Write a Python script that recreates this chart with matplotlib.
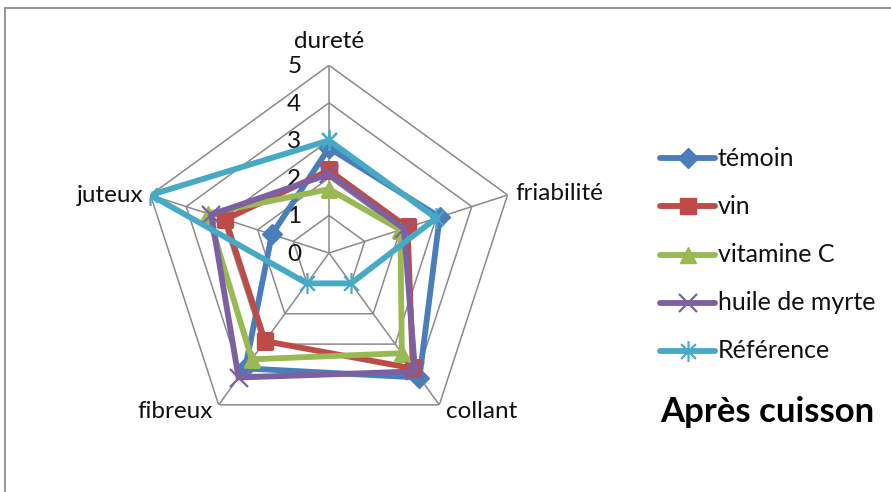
import numpy as np
import matplotlib
matplotlib.use("Agg")
import matplotlib.pyplot as plt
from matplotlib.patches import Rectangle
from matplotlib.path import Path

plt.rcParams['font.family'] = ['Lato', 'DejaVu Sans']

axes_labels = ["dureté", "friabilité", "collant", "fibreux", "juteux"]
temoin = [2.8, 3.1, 4.1, 3.8, 1.6]
vin = [2.2, 2.2, 3.8, 2.9, 2.9]
vitamine_c = [1.7, 2.0, 3.3, 3.5, 3.4]
huile_myrte = [2.1, 2.1, 3.9, 4.1, 3.3]
reference = [3, 3, 1, 1, 5]
series_names = ["témoin", "vin", "vitamine C", "huile de myrte", "Référence"]
ring_ticks = [0, 1, 2, 3, 4, 5]

series = [temoin, vin, vitamine_c, huile_myrte, reference]
colors = ["#4A7EBB", "#BE4B48", "#98B954", "#7D60A0", "#46AAC5"]

# asterisk marker built from three strokes
_s = 0.7071
asterisk = Path([(0, -1), (0, 1), (-_s, -_s), (_s, _s), (-_s, _s), (_s, -_s)],
                [Path.MOVETO, Path.LINETO] * 3)
markers = ["D", "s", "^", "x", asterisk]
msizes = [10, 11, 12, 13, 15]

W, H = 891, 492
fig = plt.figure(figsize=(W / 100, H / 100), dpi=100)

# outer chart frame
fig.patches.append(Rectangle((5 / W, -0.1), 1.2, 1 - 8 / H + 0.1,
                             transform=fig.transFigure, fill=False,
                             edgecolor="#8c8c8c", linewidth=1.3))

cx, cy, R = 329, 253, 187.7
ax = fig.add_axes([(cx - R) / W, 1 - (cy + R) / H, 2 * R / W, 2 * R / H],
                  projection="polar")
ax.set_theta_offset(np.pi / 2)
ax.set_theta_direction(-1)
ax.set_ylim(0, 5)
ax.grid(False)
ax.spines["polar"].set_visible(False)
ax.set_xticks([])
ax.set_yticks([])
ax.patch.set_alpha(0)

n = len(axes_labels)
theta = np.arange(n) * 2 * np.pi / n
theta_closed = np.append(theta, theta[0])

# pentagon grid and spokes
for r in ring_ticks[1:]:
    ax.plot(theta_closed, [r] * (n + 1), color="#8a8a8a", lw=1.1, zorder=1)
for t in theta:
    ax.plot([t, t], [0, 5], color="#8a8a8a", lw=1.1, zorder=1)

# scale labels along the first spoke
for r in ring_ticks:
    ax.annotate(str(r), xy=(0, r), xytext=(-25, -1), textcoords="offset points",
                ha="center", va="center", fontsize=17.5, color="#111111")


def marker_style(m, c):
    if isinstance(m, Path) or m == "x":
        return dict(markerfacecolor="none", markeredgecolor=c, markeredgewidth=1.6)
    return dict(markerfacecolor=c, markeredgecolor=c, markeredgewidth=1)


for vals, c, m, ms, name in zip(series, colors, markers, msizes, series_names):
    v = list(vals) + [vals[0]]
    ax.plot(theta_closed, v, color=c, lw=4.2, marker=m, markersize=ms,
            label=name, zorder=3, solid_joinstyle="miter",
            **marker_style(m, c))

# category labels
label_pos = [(329, 41, "center"), (515, 193, "left"), (482, 412, "center"),
             (175, 412, "center"), (143, 195, "right")]
for lab, (x, y, ha) in zip(axes_labels, label_pos):
    fig.text(x / W, 1 - y / H, lab, ha=ha, va="center", fontsize=17.5,
             color="#111111")

# legend
leg_y = [158, 206, 255, 303, 351]
for name, c, m, ms, y in zip(series_names, colors, markers, msizes, leg_y):
    fig.add_artist(plt.Line2D([660 / W, 715 / W], [1 - y / H, 1 - y / H],
                              transform=fig.transFigure, color=c, lw=4.2,
                              solid_capstyle="round"))
    fig.add_artist(plt.Line2D([687.5 / W], [1 - y / H], transform=fig.transFigure,
                              color=c, marker=m, markersize=ms,
                              **marker_style(m, c)))
    fig.text(718 / W, 1 - y / H, name, ha="left", va="center", fontsize=18,
             color="#111111")

fig.text(660 / W, 1 - 412 / H, "Après cuisson", ha="left", va="center",
         fontsize=25, fontweight="bold", color="#000000")

fig.savefig("out.png", dpi=100)
